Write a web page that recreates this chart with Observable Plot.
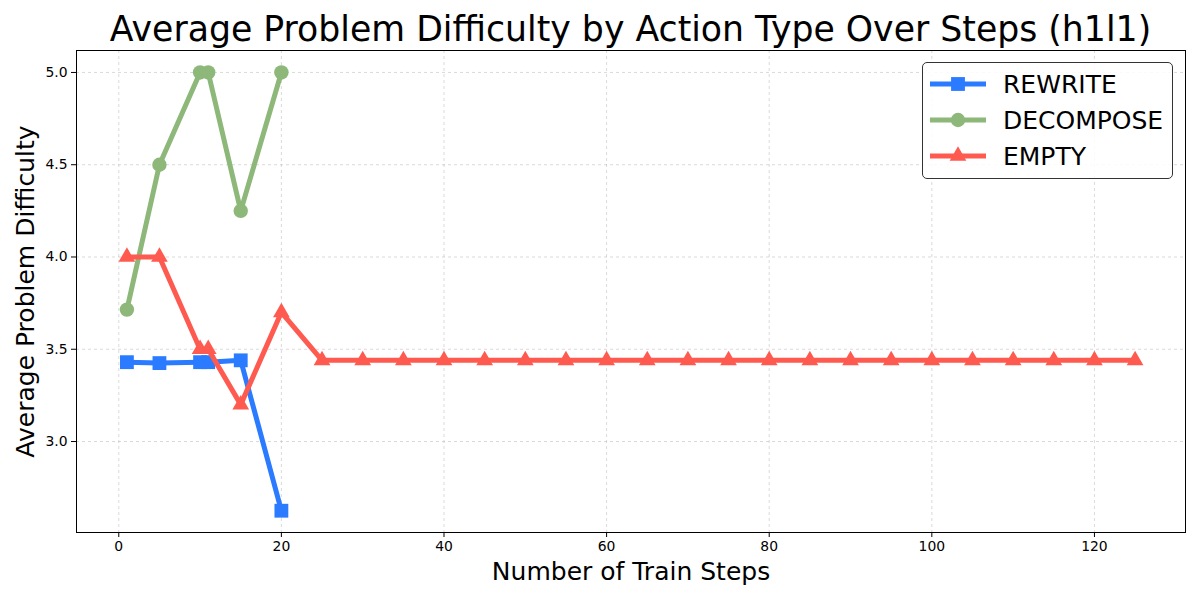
<!DOCTYPE html>
<html>
<head>
<meta charset="utf-8">
<script src="https://cdn.jsdelivr.net/npm/d3@7"></script>
<script src="https://cdn.jsdelivr.net/npm/@observablehq/plot@0.6"></script>
<style>
  body { margin: 0; background: white; font-family: "DejaVu Sans", sans-serif; }
  #wrap { position: relative; width: 1200px; height: 600px; }
  #title { height: 50px; box-sizing: border-box; padding-top: 12px; margin-left: 76px; width: 1109px;
           text-align: center; font-size: 34.7px; line-height: 34.7px; white-space: nowrap; }
  #legend { position: absolute; left: 922px; top: 62px; width: 251px; height: 117px; box-sizing: border-box;
            border: 1px solid #333; border-radius: 5px; background: rgba(255,255,255,0.85); }
  .lrow { position: absolute; left: 0; height: 36px; display: flex; align-items: center; }
  .lrow span { font-size: 25px; margin-left: 10px; }
</style>
</head>
<body>
<div id="wrap">
  <div id="title">Average Problem Difficulty by Action Type Over Steps (h1l1)</div>
  <div id="chart"></div>
  <div id="legend"></div>
</div>
<script>
const seriesNames = ["REWRITE", "DECOMPOSE", "EMPTY"];
const seriesColors = ["#2a7bff", "#8db87a", "#ff5a50"];
const seriesSymbols = ["square", "circle", "triangle"];

const rewriteSteps = [1, 5, 10, 11, 15, 20];
const rewriteValues = [3.43, 3.425, 3.43, 3.43, 3.44, 2.625];

const decomposeSteps = [1, 5, 10, 11, 15, 20];
const decomposeValues = [3.715, 4.5, 5.0, 5.0, 4.25, 5.0];

const emptySteps = [1, 5, 10, 11, 15, 20, 25, 30, 35, 40, 45, 50, 55, 60, 65, 70, 75, 80, 85, 90, 95, 100, 105, 110, 115, 120, 125];
const emptyValues = [4.0, 4.0, 3.5, 3.5, 3.2, 3.7, 3.44, 3.44, 3.44, 3.44, 3.44, 3.44, 3.44, 3.44, 3.44, 3.44, 3.44, 3.44, 3.44, 3.44, 3.44, 3.44, 3.44, 3.44, 3.44, 3.44, 3.44];

const xTicks = [0, 20, 40, 60, 80, 100, 120];
const yTicks = [3.0, 3.5, 4.0, 4.5, 5.0];

const stepsBySeries = [rewriteSteps, decomposeSteps, emptySteps];
const valuesBySeries = [rewriteValues, decomposeValues, emptyValues];

const markerR = {square: 7.8, circle: 7.2, triangle: 6.2};

const seriesMarks = [];
seriesNames.forEach((name, i) => {
  const rows = stepsBySeries[i].map((s, j) => ({series: name, step: s, value: valuesBySeries[i][j]}));
  seriesMarks.push(Plot.line(rows, {x: "step", y: "value", stroke: seriesColors[i], strokeWidth: 5, strokeLinejoin: "miter"}));
  seriesMarks.push(Plot.dot(rows, {x: "step", y: "value", symbol: () => seriesSymbols[i], r: markerR[seriesSymbols[i]], fill: seriesColors[i], stroke: "none"}));
});

const chart = Plot.plot({
  width: 1200,
  height: 550,
  marginTop: 0,
  marginBottom: 68,
  marginLeft: 76,
  marginRight: 15,
  style: {fontFamily: "DejaVu Sans, sans-serif", fontSize: "13.9px", color: "black", background: "white", overflow: "visible"},
  x: {domain: [-5.2, 131.2]},
  y: {domain: [2.507, 5.119]},
  marks: [
    Plot.gridX(xTicks, {stroke: "#b0b0b0", strokeOpacity: 0.6, strokeDasharray: "3,3", strokeWidth: 0.8}),
    Plot.gridY(yTicks, {stroke: "#b0b0b0", strokeOpacity: 0.6, strokeDasharray: "3,3", strokeWidth: 0.8}),
    Plot.axisX(xTicks, {tickSize: 5, tickPadding: 4, label: null, fontSize: 13.9}),
    Plot.axisY(yTicks, {tickSize: 5, tickPadding: 4, label: null, tickFormat: d3.format(".1f"), fontSize: 13.9}),
    ...seriesMarks,
    Plot.frame({stroke: "black", strokeWidth: 1}),
    Plot.text(["Number of Train Steps"], {frameAnchor: "bottom", dy: 39, lineAnchor: "middle", textAnchor: "middle", fontSize: 25, fill: "black"}),
    Plot.text(["Average Problem Difficulty"], {frameAnchor: "left", dx: -51, rotate: -90, lineAnchor: "middle", textAnchor: "middle", fontSize: 25, fill: "black"})
  ]
});
document.getElementById("chart").appendChild(chart);

// legend
const legend = document.getElementById("legend");
seriesNames.forEach((name, i) => {
  const row = document.createElement("div");
  row.className = "lrow";
  row.style.top = (3 + i * 36) + "px";
  const sw = d3.create("svg").attr("width", 70).attr("height", 36);
  sw.append("line").attr("x1", 7).attr("x2", 63).attr("y1", 18).attr("y2", 18)
    .attr("stroke", seriesColors[i]).attr("stroke-width", 5);
  const r = markerR[seriesSymbols[i]];
  const sym = {square: d3.symbolSquare, circle: d3.symbolCircle, triangle: d3.symbolTriangle}[seriesSymbols[i]];
  sw.append("path").attr("d", d3.symbol(sym, Math.PI * r * r)()).attr("transform", "translate(35,18)")
    .attr("fill", seriesColors[i]);
  row.appendChild(sw.node());
  const t = document.createElement("span");
  t.textContent = name;
  row.appendChild(t);
  legend.appendChild(row);
});
</script>
</body>
</html>
